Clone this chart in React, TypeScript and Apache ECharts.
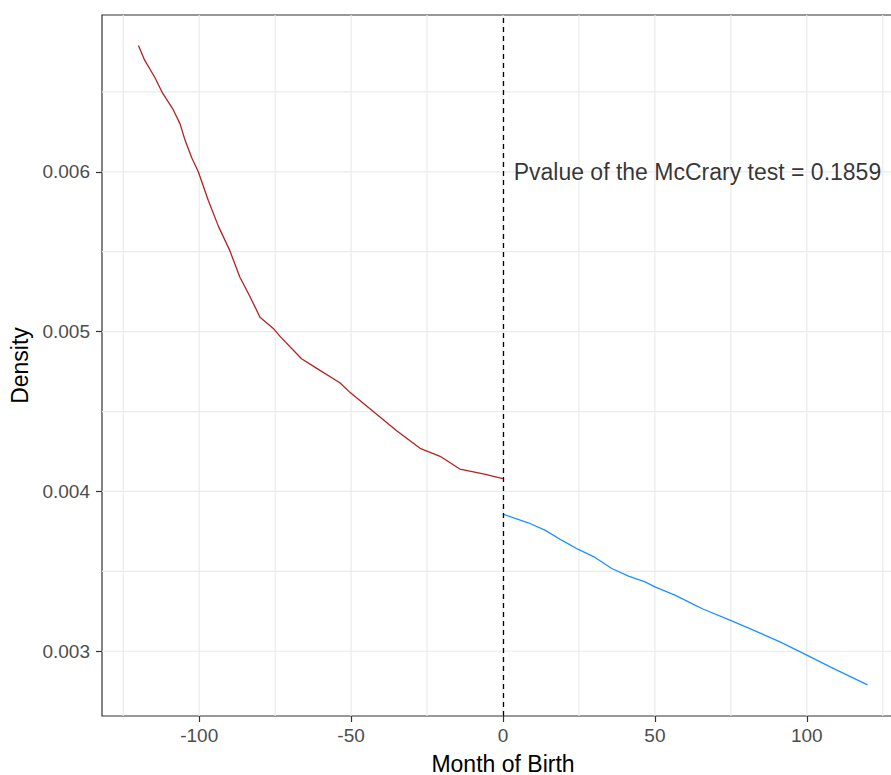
import React, { useEffect, useRef } from "react";
import * as echarts from "echarts";

// Estimated density on each side of the cutoff (month of birth relative to cutoff)
const leftMonths = [-120, -118, -114.6, -112, -108.6, -106.3, -104.7, -102.5, -100.3, -97, -93.7, -90, -86.6, -83.3, -80, -75.6, -73.4, -66.3, -61.3, -53.7, -50.4, -42.7, -35, -27.3, -20.7, -14.2, -6.5, 0];
const leftDensity = [0.00679, 0.0067, 0.00659, 0.00649, 0.00639, 0.0063, 0.0062, 0.00609, 0.006, 0.00582, 0.00566, 0.00551, 0.00534, 0.00522, 0.00509, 0.00502, 0.00497, 0.00483, 0.00477, 0.00468, 0.00462, 0.0045, 0.00438, 0.00427, 0.00422, 0.00414, 0.00411, 0.00408];

const rightMonths = [0, 4, 8.3, 13.8, 19.3, 24.8, 30.3, 35.8, 41.3, 46.8, 50, 56.6, 63.2, 66, 74.7, 82.4, 91.2, 100, 107.7, 120];
const rightDensity = [0.003858, 0.003831, 0.003804, 0.003758, 0.003695, 0.003637, 0.003587, 0.003518, 0.00347, 0.003434, 0.003403, 0.003351, 0.003289, 0.003263, 0.003195, 0.003132, 0.003059, 0.002976, 0.002902, 0.00279];

const xTicks = [-100, -50, 0, 50, 100];
const xMinorTicks = [-125, -75, -25, 25, 75, 125];
const yTicks = [0.003, 0.004, 0.005, 0.006];
const yMinorTicks = [0.0035, 0.0045, 0.0055, 0.0065];

const cutoff = 0;
const annotationText = "Pvalue of the McCrary test = 0.1859";
const annotationAt = [64, 0.006];

const X_MIN = -132;
const X_MAX = 132;
const Y_MIN = 0.002595;
const Y_MAX = 0.006981;

const FONT = "'Liberation Sans', Arial, Helvetica, sans-serif";
const GRID_COLOR = "#EBEBEB";

export default function App() {
  const ref = useRef<HTMLDivElement>(null);

  useEffect(() => {
    if (!ref.current) return;
    const chart = echarts.init(ref.current, undefined, { renderer: "svg" });

    // Panel grid lines, one short two-point line series per level
    const gridLine = (data: number[][]) => ({
      type: "line",
      z: 1,
      silent: true,
      showSymbol: false,
      symbol: "none",
      lineStyle: { color: GRID_COLOR, width: 1.2 },
      data,
    });
    const horizontalGrid = [...yTicks, ...yMinorTicks].map((v) =>
      gridLine([
        [X_MIN, v],
        [X_MAX, v],
      ])
    );
    const verticalGrid = [...xTicks, ...xMinorTicks].map((v) =>
      gridLine([
        [v, Y_MIN],
        [v, Y_MAX],
      ])
    );

    chart.setOption({
      animation: false,
      backgroundColor: "#ffffff",
      textStyle: { fontFamily: FONT },
      grid: {
        left: 102,
        top: 15,
        width: 802,
        height: 701,
        show: true,
        borderColor: "#333333",
        borderWidth: 1.2,
        backgroundColor: "transparent",
        containLabel: false,
        outerBoundsMode: "none",
      },
      xAxis: {
        type: "value",
        min: X_MIN,
        max: X_MAX,
        name: "Month of Birth",
        nameLocation: "middle",
        nameGap: 36,
        nameTextStyle: { fontSize: 23, color: "#000000", fontFamily: FONT },
        axisLine: { show: false, onZero: false },
        splitLine: { show: false },
        axisTick: {
          show: true,
          length: 6,
          customValues: xTicks,
          lineStyle: { color: "#333333", width: 1.2 },
        },
        axisLabel: {
          customValues: xTicks,
          fontSize: 19,
          color: "#4D4D4D",
          margin: 10,
          fontFamily: FONT,
        },
      },
      yAxis: {
        type: "value",
        min: Y_MIN,
        max: Y_MAX,
        name: "Density",
        nameLocation: "middle",
        nameGap: 66,
        nameTextStyle: { fontSize: 23, color: "#000000", fontFamily: FONT },
        axisLine: { show: false, onZero: false },
        splitLine: { show: false },
        axisTick: {
          show: true,
          length: 6,
          customValues: yTicks,
          lineStyle: { color: "#333333", width: 1.2 },
        },
        axisLabel: {
          customValues: yTicks,
          fontSize: 19,
          color: "#4D4D4D",
          margin: 12,
          fontFamily: FONT,
          formatter: (v: number) => v.toFixed(3),
        },
      },
      series: [
        ...horizontalGrid,
        ...verticalGrid,
        {
          name: "left of cutoff",
          type: "line",
          z: 3,
          showSymbol: false,
          symbol: "none",
          silent: true,
          lineStyle: { color: "#B22222", width: 1.3 },
          data: leftMonths.map((m, i) => [m, leftDensity[i]]),
        },
        {
          name: "right of cutoff",
          type: "line",
          z: 3,
          showSymbol: false,
          symbol: "none",
          silent: true,
          lineStyle: { color: "#1E90FF", width: 1.3 },
          data: rightMonths.map((m, i) => [m, rightDensity[i]]),
        },
        {
          name: "cutoff",
          type: "line",
          data: [],
          z: 4,
          silent: true,
          markLine: {
            silent: true,
            symbol: ["none", "none"],
            label: { show: false },
            animation: false,
            lineStyle: { color: "#000000", width: 1.3, type: [5, 4] },
            emphasis: { disabled: true },
            data: [{ xAxis: cutoff }],
          },
        },
        {
          name: "annotation",
          type: "scatter",
          z: 5,
          silent: true,
          symbolSize: 1,
          itemStyle: { color: "rgba(0,0,0,0)" },
          label: {
            show: true,
            position: "inside",
            formatter: () => annotationText,
            fontSize: 23,
            color: "#000000",
            fontFamily: FONT,
          },
          data: [annotationAt],
        },
      ],
    });

    return () => chart.dispose();
  }, []);

  return (
    <div
      ref={ref}
      style={{ position: "fixed", left: 0, top: 0, width: 891, height: 775, background: "#fff" }}
    />
  );
}
